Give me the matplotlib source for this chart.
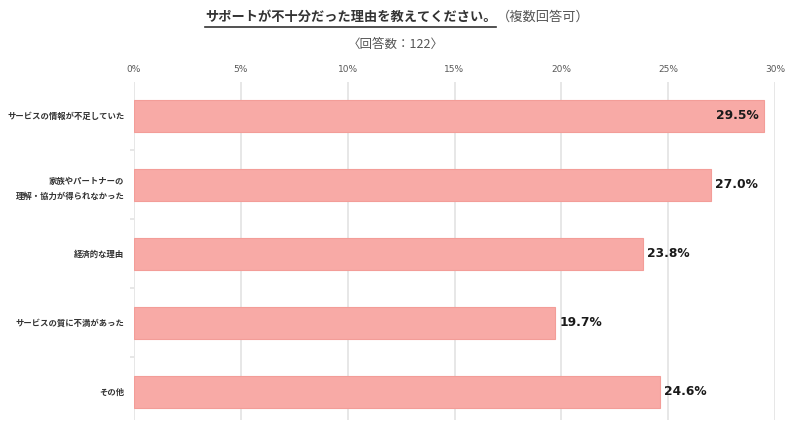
import numpy as np
import matplotlib.pyplot as plt
from matplotlib.lines import Line2D

# data
categories = ["サービスの情報が不足していた",
              "家族やパートナーの\n理解・協力が得られなかった",
              "経済的な理由",
              "サービスの質に不満があった",
              "その他"]
values = [29.5, 27.0, 23.8, 19.7, 24.6]
xticks = [0, 5, 10, 15, 20, 25, 30]

jp = ['Noto Sans CJK JP', 'DejaVu Sans']
num = ['DejaVu Sans', 'Noto Sans CJK JP']
plt.rcParams['font.family'] = jp

fig = plt.figure(figsize=(7.88, 4.45), dpi=100)
ax = fig.add_axes([134 / 788, 1 - 420 / 445, (775 - 134) / 788, (420 - 82) / 445])

y = np.arange(len(categories))
ax.barh(y, values, height=0.46, color='#f8aaa6', edgecolor='#f39d98', linewidth=0.8, zorder=3)

ax.set_xlim(0, 30)
ax.set_ylim(len(categories) - 0.59, -0.49)
ax.set_xticks(xticks)
ax.set_xticklabels([f"{t}%" for t in xticks], family=num, fontsize=6.5, color='#595959')
ax.xaxis.tick_top()
ax.tick_params(axis='x', length=0, pad=6)
ax.grid(axis='x', color='#e3e3e3', linewidth=1.2, zorder=0)

ax.set_yticks(y)
ax.set_yticklabels(categories, fontsize=6, fontweight='bold', color='#333333', linespacing=1.9)
ax.tick_params(axis='y', length=0, pad=7)
ax.set_yticks(np.arange(len(categories) - 1) + 0.5, minor=True)
ax.tick_params(axis='y', which='minor', length=3, color='#e3e3e3', width=1.2)
for s in ax.spines.values():
    s.set_visible(False)

# value labels
for yi, v in zip(y, values):
    if v > 28:
        ax.text(v - 0.25, yi, f"{v:.1f}%", ha='right', va='center', family=num,
                fontsize=8.8, fontweight='bold', color='#1a1a1a', zorder=4)
    else:
        ax.text(v + 0.2, yi, f"{v:.1f}%", ha='left', va='center', family=num,
                fontsize=8.8, fontweight='bold', color='#1a1a1a', zorder=4)

# title
t1 = fig.text(205 / 788, 1 - 17 / 445, "サポートが不十分だった理由を教えてください。",
              ha='left', va='center', fontsize=9.5, fontweight='bold', color='#333333')
fig.text(497 / 788, 1 - 17 / 445, "（複数回答可）", ha='left', va='center',
         fontsize=9.5, color='#555555')
fig.text(396 / 788, 1 - 44 / 445, "〈回答数：122〉", ha='center', va='center',
         fontsize=9, color='#555555')

fig.canvas.draw()
bb = t1.get_window_extent().transformed(fig.transFigure.inverted())
fig.add_artist(Line2D([bb.x0, bb.x1], [1 - 27 / 445] * 2, color='#333333', linewidth=1.2))

fig.savefig("out.png", dpi=100)
